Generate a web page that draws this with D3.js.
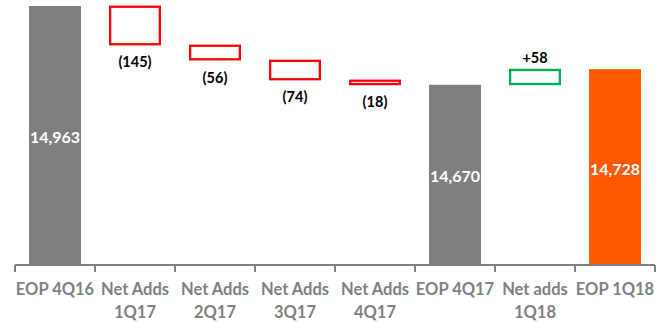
<!DOCTYPE html>
<html>
<head>
<meta charset="utf-8">
<script src="https://cdn.jsdelivr.net/npm/d3@7/dist/d3.min.js"></script>
<style>
  html, body { margin: 0; padding: 0; background: #fff; }
  svg { display: block; font-family: Lato, "Open Sans", sans-serif; }
</style>
</head>
<body>
<svg id="chart" width="658" height="322"></svg>
<script>
// Subscriber bridge: end-of-period totals and quarterly net adds
const categories = ["EOP 4Q16", "Net Adds 1Q17", "Net Adds 2Q17", "Net Adds 3Q17", "Net Adds 4Q17", "EOP 4Q17", "Net adds 1Q18", "EOP 1Q18"];
const axisLines = [["EOP 4Q16"], ["Net Adds", "1Q17"], ["Net Adds", "2Q17"], ["Net Adds", "3Q17"], ["Net Adds", "4Q17"], ["EOP 4Q17"], ["Net adds", "1Q18"], ["EOP 1Q18"]];
const kinds = ["total", "delta", "delta", "delta", "delta", "total", "delta", "final"];
const values = [14963, -145, -56, -74, -18, 14670, 58, 14728];
const valueLabels = ["14,963", "(145)", "(56)", "(74)", "(18)", "14,670", "+58", "14,728"];
const yBase = 14000;

const colors = { total: "#7f7f7f", final: "#ff5800", down: "#ff0000", up: "#00b050", axis: "#7f7f7f", text: "#7f7f7f" };

const svg = d3.select("#chart");
const margin = { top: 6, right: 3, bottom: 57, left: 15 };
const W = 658, H = 322;
const innerW = W - margin.left - margin.right;
const innerH = H - margin.top - margin.bottom;

// Running totals give each step its start and end level
let running = 0;
const steps = categories.map((c, i) => {
  let start, end;
  if (kinds[i] === "delta") {
    start = running;
    end = running + values[i];
  } else {
    start = yBase;
    end = values[i];
  }
  running = kinds[i] === "delta" ? end : values[i];
  return { cat: c, kind: kinds[i], value: values[i], start, end, label: valueLabels[i], lines: axisLines[i] };
});

const x = d3.scaleBand().domain(categories).range([0, innerW]).paddingInner(0.35).paddingOuter(0.175);
const y = d3.scaleLinear().domain([yBase, d3.max(values)]).range([innerH, 0]);

const g = svg.append("g").attr("transform", `translate(${margin.left},${margin.top})`);

// Solid total bars
g.selectAll("rect.total").data(steps.filter(d => d.kind !== "delta")).join("rect")
  .attr("class", "total")
  .attr("x", d => x(d.cat))
  .attr("width", x.bandwidth())
  .attr("y", d => y(d.end))
  .attr("height", d => y(d.start) - y(d.end))
  .attr("fill", d => d.kind === "final" ? colors.final : colors.total);

// Outlined step boxes for net adds
const sw = 2.3;
g.selectAll("rect.delta").data(steps.filter(d => d.kind === "delta")).join("rect")
  .attr("class", "delta")
  .attr("x", d => x(d.cat) + sw / 2)
  .attr("width", x.bandwidth() - sw)
  .attr("y", d => y(Math.max(d.start, d.end)) + sw / 2 - 0.4)
  .attr("height", d => Math.abs(y(d.start) - y(d.end)) - sw + 0.8)
  .attr("fill", "#fff")
  .attr("stroke", d => d.value < 0 ? colors.down : colors.up)
  .attr("stroke-width", sw);

// Value labels: inside the total bars, beside the step boxes
g.selectAll("text.val").data(steps).join("text")
  .attr("class", "val")
  .attr("text-anchor", "middle")
  .attr("font-weight", 700)
  .attr("x", d => x(d.cat) + x.bandwidth() / 2)
  .attr("y", d => {
    if (d.kind !== "delta") return (y(d.start) + y(d.end)) / 2 + 7.5;
    if (d.value < 0) return y(d.end) + 22.5;
    return y(d.end) - 6;
  })
  .attr("font-size", d => d.kind !== "delta" ? 16 : 14.5)
  .attr("fill", d => d.kind !== "delta" ? "#fff" : "#000")
  .text(d => d.label);

// Category axis with ticks between categories
const axisG = g.append("g").attr("transform", `translate(0,${innerH})`);
axisG.append("line")
  .attr("x1", 0).attr("x2", innerW)
  .attr("stroke", colors.axis).attr("stroke-width", 2);
const step = innerW / categories.length;
axisG.selectAll("line.tick").data(d3.range(categories.length + 1)).join("line")
  .attr("class", "tick")
  .attr("x1", i => i * step).attr("x2", i => i * step)
  .attr("y1", 0).attr("y2", 7)
  .attr("stroke", colors.axis).attr("stroke-width", 2);

const labels = axisG.selectAll("text.cat").data(steps).join("text")
  .attr("class", "cat")
  .attr("text-anchor", "middle")
  .attr("font-weight", 700)
  .attr("font-size", 16.5)
  .attr("fill", colors.text)
  .attr("x", d => x(d.cat) + x.bandwidth() / 2)
  .attr("y", 30);
labels.selectAll("tspan").data(d => d.lines).join("tspan")
  .attr("x", function () { return d3.select(this.parentNode).attr("x"); })
  .attr("dy", (d, i) => i === 0 ? 0 : 22.5)
  .text(d => d);
</script>
</body>
</html>
